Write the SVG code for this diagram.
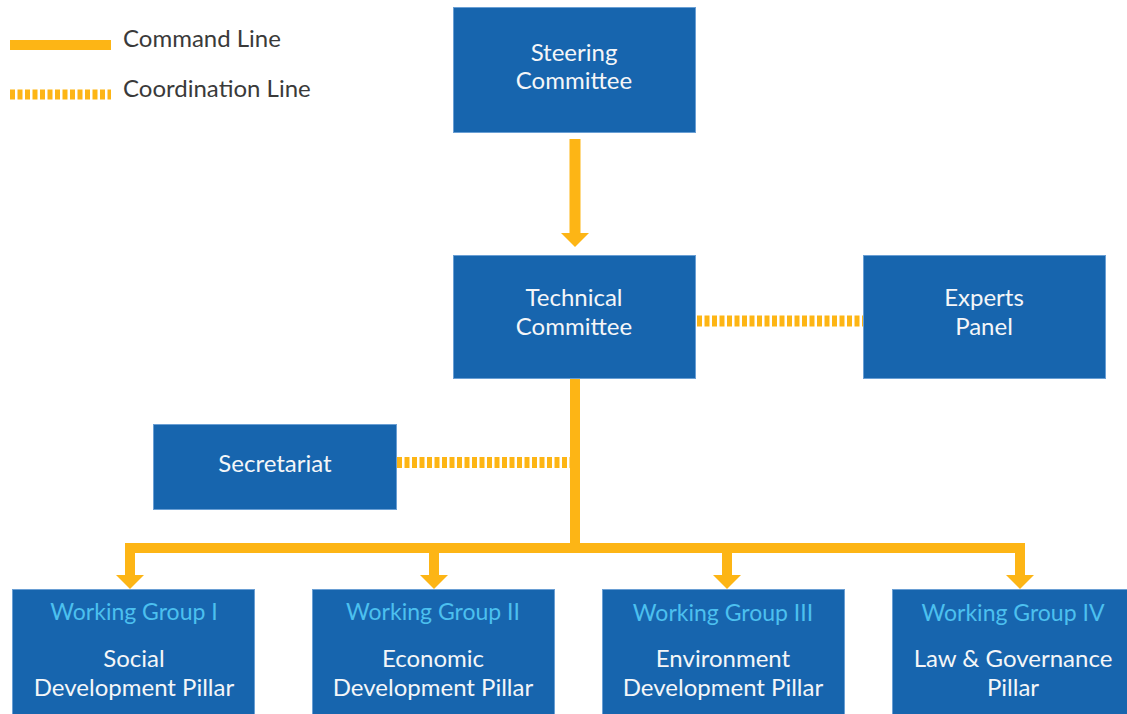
<svg xmlns="http://www.w3.org/2000/svg" width="1127" height="714" viewBox="0 0 1127 714">
  <style>
    .box { fill: #1765ae; stroke: #6a9fd4; stroke-width: 1; }
    .lbl { font-family: Lato, "Open Sans", sans-serif; font-size: 24px; fill: #f4f6f8; text-anchor: middle; }
    .ttl { font-family: Lato, "Open Sans", sans-serif; font-size: 23px; fill: #4cc0ef; text-anchor: middle; }
    .leg { font-family: Lato, "Open Sans", sans-serif; font-size: 24px; fill: #3a3a3a; }
    .cmd { fill: none; stroke: #fdb515; stroke-width: 11; stroke-linecap: butt; stroke-linejoin: miter; }
    .crd { fill: none; stroke: #fdb515; stroke-width: 11; stroke-dasharray: 5 2.5; }
  </style>
  <defs>
    <marker id="head" viewBox="0 -14 14 28" refX="0" refY="0" markerWidth="14" markerHeight="28" markerUnits="userSpaceOnUse" orient="auto">
      <path d="M0,-14 L14,0 L0,14 z" fill="#fdb515"/>
    </marker>
  </defs>

  <rect width="1127" height="714" fill="#ffffff"/>

  <!-- legend -->
  <g id="legend">
    <line class="cmd" x1="10" y1="45" x2="111" y2="45" style="stroke-width:10"/>
    <text class="leg" x="123" y="47">Command Line</text>
    <line class="crd" x1="10" y1="94.5" x2="111" y2="94.5" style="stroke-width:10"/>
    <text class="leg" x="123" y="97">Coordination Line</text>
  </g>

  <!-- connectors -->
  <g id="connectors">
    <path class="cmd" d="M575,139 V233" marker-end="url(#head)"/>
    <path class="crd" d="M697,321 H863"/>
    <path class="crd" d="M397,462.5 H570"/>
    <path class="cmd" d="M575,379 V548" style="stroke-width:10"/>
    <path class="cmd" d="M130,575 V548 H1020 V575" style="stroke-width:10"/>
    <path class="cmd" d="M130,560 V575" marker-end="url(#head)" style="stroke-width:10"/>
    <path class="cmd" d="M434,548 V575" marker-end="url(#head)" style="stroke-width:10"/>
    <path class="cmd" d="M727,548 V575" marker-end="url(#head)" style="stroke-width:10"/>
    <path class="cmd" d="M1020,560 V575" marker-end="url(#head)" style="stroke-width:10"/>
  </g>

  <!-- nodes -->
  <g id="steering">
    <rect class="box" x="453.5" y="7.5" width="242" height="125"/>
    <text class="lbl" x="574" y="61">Steering</text>
    <text class="lbl" x="574" y="89">Committee</text>
  </g>
  <g id="technical">
    <rect class="box" x="453.5" y="255.5" width="242" height="123"/>
    <text class="lbl" x="574" y="306">Technical</text>
    <text class="lbl" x="574" y="335">Committee</text>
  </g>
  <g id="experts">
    <rect class="box" x="863.5" y="255.5" width="242" height="123"/>
    <text class="lbl" x="984" y="306">Experts</text>
    <text class="lbl" x="984" y="335">Panel</text>
  </g>
  <g id="secretariat">
    <rect class="box" x="153.5" y="424.5" width="243" height="85"/>
    <text class="lbl" x="275" y="472">Secretariat</text>
  </g>
  <g id="wg1">
    <rect class="box" x="12.5" y="589.5" width="242" height="130"/>
    <text class="ttl" x="134" y="620">Working Group I</text>
    <text class="lbl" x="134" y="667">Social</text>
    <text class="lbl" x="134" y="696">Development Pillar</text>
  </g>
  <g id="wg2">
    <rect class="box" x="312.5" y="589.5" width="242" height="130"/>
    <text class="ttl" x="433" y="620">Working Group II</text>
    <text class="lbl" x="433" y="667">Economic</text>
    <text class="lbl" x="433" y="696">Development Pillar</text>
  </g>
  <g id="wg3">
    <rect class="box" x="602.5" y="589.5" width="242" height="130"/>
    <text class="ttl" x="723" y="621">Working Group III</text>
    <text class="lbl" x="723" y="667">Environment</text>
    <text class="lbl" x="723" y="696">Development Pillar</text>
  </g>
  <g id="wg4">
    <rect class="box" x="892.5" y="589.5" width="242" height="130"/>
    <text class="ttl" x="1013" y="621">Working Group IV</text>
    <text class="lbl" x="1013" y="667">Law &amp; Governance</text>
    <text class="lbl" x="1013" y="696">Pillar</text>
  </g>
</svg>
